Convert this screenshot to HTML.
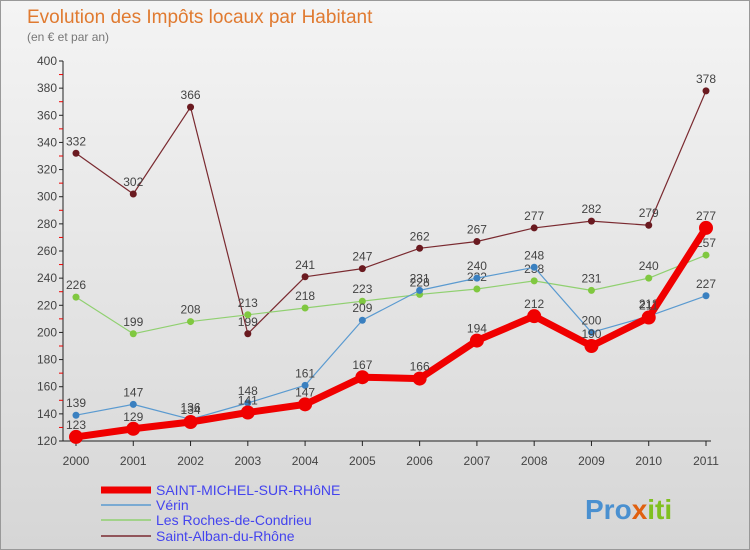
<!DOCTYPE html>
<html><head><meta charset="utf-8"><style>
body{margin:0}
#c{width:750px;height:550px;position:relative;background:linear-gradient(#f4f4f4,#d6d6d6);font-family:"Liberation Sans",sans-serif;border:1px solid #999;box-sizing:border-box;overflow:hidden}
</style></head><body>
<div id="c">
<svg id="s" width="750" height="550" style="position:absolute;left:0;top:0">
<text x="26" y="22" font-size="19" fill="#e07a30">Evolution des Impôts locaux par Habitant</text>
<text x="26" y="40" font-size="12" fill="#777">(en € et par an)</text>
<g id="g"></g>
<text x="584" y="518" font-size="28" font-weight="bold" fill="#4a90d0">Pro<tspan fill="#e06010">x</tspan><tspan fill="#80c020">iti</tspan></text>
</svg>
</div>
<script>
const years=["2000","2001","2002","2003","2004","2005","2006","2007","2008","2009","2010","2011"];
const yTicks=[120,140,160,180,200,220,240,260,280,300,320,340,360,380,400];
const red=[123,129,134,141,147,167,166,194,212,190,211,277];
const blue=[139,147,136,148,161,209,231,240,248,200,212,227];
const green=[226,199,208,213,218,223,228,232,238,231,240,257];
const brown=[332,302,366,199,241,247,262,267,277,282,279,378];
const names=["SAINT-MICHEL-SUR-RHôNE","Vérin","Les Roches-de-Condrieu","Saint-Alban-du-Rhône"];
const NS="http://www.w3.org/2000/svg";
const g=document.getElementById('g');
const X=i=>75+i*(630/11);
const Y=v=>440-(v-120)*(380/280);
function el(t,a,p){const e=document.createElementNS(NS,t);for(const k in a)e.setAttribute(k,a[k]);(p||g).appendChild(e);return e;}
let ax=el('line',{x1:62,y1:60,x2:62,y2:440,stroke:'#222'});


let bx=el('line',{x1:62,y1:440,x2:710,y2:440,stroke:'#222'});


yTicks.forEach(v=>{
 el('line',{x1:58,y1:Y(v),x2:62,y2:Y(v),stroke:'#222'});
 if(v<400)el('line',{x1:58,y1:Y(v+10),x2:62,y2:Y(v+10),stroke:'#e00'});
 const t=el('text',{x:56,y:Y(v)+4,'font-size':12,fill:'#444','text-anchor':'end'});t.textContent=v;
 
 
});
years.forEach((y,i)=>{
 el('line',{x1:X(i),y1:440,x2:X(i),y2:445,stroke:'#222'});
 const t=el('text',{x:X(i),y:464,'font-size':12,fill:'#444','text-anchor':'middle'});t.textContent=y;
 
 
});
function series(d,col,dot,w,r,nm,below){
 const p=el('polyline',{points:d.map((v,i)=>X(i)+','+Y(v)).join(' '),fill:'none',stroke:col,'stroke-width':w,'stroke-linejoin':'round'});
 
 
 d.forEach((v,i)=>{
  const c=el('circle',{cx:X(i),cy:Y(v),r:r,fill:dot});
  
  
  const t=el('text',{x:X(i),y:Y(v)-8,'font-size':12,fill:'#444','text-anchor':'middle'});t.textContent=v;
  
  
 });
}
series(brown,'#7a2a30','#6a1a20',1.2,3.5,'saint-alban');
series(green,'#90d070','#80c840',1.2,3.5,'les-roches');
series(blue,'#5a9ad0','#3a80c0',1.2,3.5,'verin');
series(red,'#f00000','#f00000',7,7,'saint-michel');
const lc=['#f00000','#5a9ad0','#90d070','#7a2a30'],lw=[7,1.5,1.5,1.5],ly=[493,508,523,539];
names.forEach((n,i)=>{
 const l=el('line',{x1:100,y1:ly[i]-4,x2:150,y2:ly[i]-4,stroke:lc[i],'stroke-width':lw[i]});
 
 
 const t=el('text',{x:155,y:ly[i]+1,'font-size':14,fill:'#4444ee'});t.textContent=n;
 
 
});
</script>
</body></html>
